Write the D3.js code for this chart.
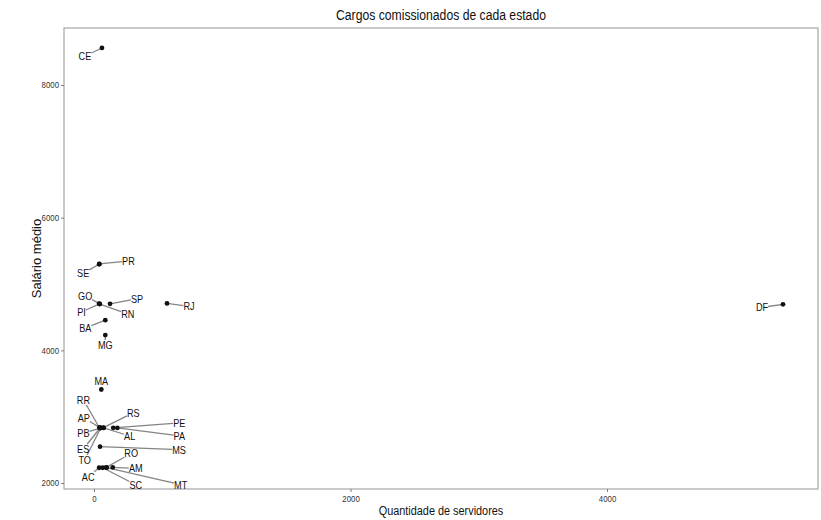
<!DOCTYPE html>
<html><head><meta charset="utf-8">
<script src="https://cdn.jsdelivr.net/npm/d3@7"></script>
<style>body{margin:0;background:#fff}</style>
</head><body>
<svg id="c" width="821" height="520"></svg>
<script>
const states    = ["AC","AL","AM","AP","BA","CE","DF","ES","GO","MA","MG","MS","MT","PA","PB","PE","PI","PR","RJ","RN","RO","RR","RS","SC","SE","SP","TO"];
const servidores= [40,  75,  146, 45,  88,  62,  5372,48,  40,  57,  88,  47,  99,  182, 50,  150, 43,  42,  569, 45,  95,  42,  73,  68,  40,  125, 52];
const salario   = [2230,2830,2235,2835,4455,8558,4693,2830,4705,3410,4230,2548,2232,2830,2828,2832,4700,5302,4708,4698,2236,2833,2834,2230,5298,4702,2830];
// repelled label nudges (px), as placed in the reference
const labelDx   = [-11, 26,  23, -16, -20, -17, -21, -17, -14, 0,   0,   79,  74,  62, -17,  66, -18, 29,  22,  28,  25, -16,  30,  33, -16,  27, -16];
const labelDy   = [9,   8,   1,  -10, 8,   8,   3,   21,  -8,  -8,  10,  3,   17,  8,   5,   -5,  8,   -3,  3,   10,  -14, -28, -15, 17,  9,   -5,  32];
const xTicks = [0, 2000, 4000];
const yTicks = [2000, 4000, 6000, 8000];
const title = "Cargos comissionados de cada estado";
const xTitle = "Quantidade de servidores";
const yTitle = "Salário médio";

const FONT = "'Liberation Sans', Arial, sans-serif";
const K = 0.87; // horizontal squeeze of the reference rendering
function squeeze(sel) {
  sel.each(function () {
    const len = this.getComputedTextLength();
    d3.select(this).attr("textLength", len * K).attr("lengthAdjust", "spacingAndGlyphs");
  });
  return sel;
}
const svg = d3.select("#c");
const L = 64, R = 818, T = 28, B = 489;
const x = d3.scaleLinear().domain([-234, 5645]).range([L, R]);
const y = d3.scaleLinear().domain([1910, 8859]).range([B, T]);

svg.append("rect").attr("x", L).attr("y", T).attr("width", R - L).attr("height", B - T)
  .attr("fill", "#fff").attr("stroke", "#a6a6a6").attr("stroke-width", 1.2);

// axes
const xa = svg.append("g").attr("transform", `translate(0,${B})`)
  .call(d3.axisBottom(x).tickValues(xTicks).tickSize(3).tickPadding(4).tickFormat(d3.format("d")));
const ya = svg.append("g").attr("transform", `translate(${L},0)`)
  .call(d3.axisLeft(y).tickValues(yTicks).tickSize(3).tickPadding(2).tickFormat(d3.format("d")));
[xa, ya].forEach(a => {
  a.select(".domain").remove();
  a.selectAll(".tick line").attr("stroke", "#7f7f7f");
  a.selectAll(".tick text").attr("fill", "#333").style("font-family", FONT).style("font-size", "9px");
  squeeze(a.selectAll(".tick text"));
});

squeeze(svg.append("text").attr("x", (L + R) / 2).attr("y", 20).attr("text-anchor", "middle")
  .style("font-family", FONT).style("font-size", "14px").attr("fill", "#111").text(title));
squeeze(svg.append("text").attr("x", (L + R) / 2).attr("y", 515).attr("text-anchor", "middle")
  .style("font-family", FONT).style("font-size", "12.5px").attr("fill", "#111").text(xTitle));
svg.append("text").attr("transform", `translate(41,${(T + B) / 2}) rotate(-90)`).attr("text-anchor", "middle")
  .style("font-family", FONT).style("font-size", "13px").attr("fill", "#111").text(yTitle);

const data = states.map((s, i) => ({s, vx: servidores[i], vy: salario[i], dx: labelDx[i], dy: labelDy[i]}));

const segG = svg.append("g");
const ptG = svg.append("g");
const lblG = svg.append("g");

data.forEach(d => {
  const px = x(d.vx), py = y(d.vy);
  const t = lblG.append("text").attr("x", px + d.dx).attr("y", py + d.dy)
    .attr("text-anchor", "middle").attr("dominant-baseline", "central")
    .style("font-family", FONT).style("font-size", "10.5px").attr("fill", "#111").text(d.s);
  const bb = t.node().getBBox();
  const len = t.node().getComputedTextLength();
  squeeze(t);
  const cx = px + d.dx, cy = bb.y + bb.height / 2;
  const vx = px - cx, vy = py - cy;
  const hw = len * K / 2, hh = bb.height / 2 - 1;
  let s = Infinity;
  if (vx !== 0) s = Math.min(s, hw / Math.abs(vx));
  if (vy !== 0) s = Math.min(s, hh / Math.abs(vy));
  if (s < 1) {
    const sx = cx + vx * s, sy = cy + vy * s;
    if (Math.hypot(px - sx, py - sy) > 3) {
      segG.append("line").attr("x1", sx).attr("y1", sy).attr("x2", px).attr("y2", py)
        .attr("stroke", "#6e6e6e").attr("stroke-width", 1.3).attr("stroke-opacity", 0.85);
    }
  }
});
ptG.selectAll("circle").data(data).join("circle")
  .attr("cx", d => x(d.vx)).attr("cy", d => y(d.vy)).attr("r", 2.4).attr("fill", "#111");
</script>
</body></html>
